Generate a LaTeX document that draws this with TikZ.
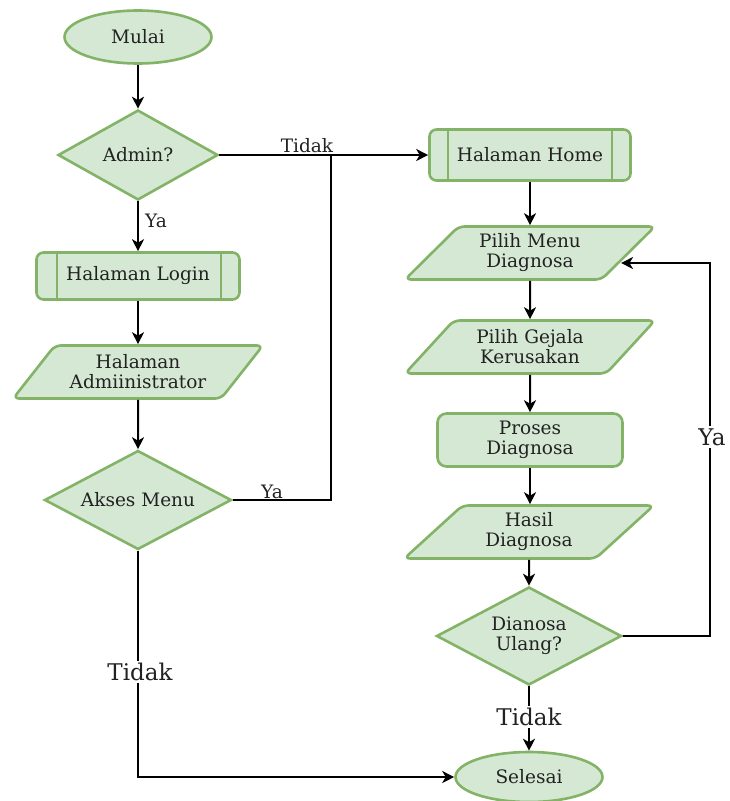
\documentclass[tikz,border=0pt]{standalone}
\usepackage{fontspec}
\setmainfont{DejaVu Serif}
\usetikzlibrary{shapes.geometric,arrows.meta,calc}
\definecolor{gfill}{HTML}{D5E8D4}
\definecolor{gdraw}{HTML}{82B366}
\definecolor{txt}{HTML}{222222}
\begin{document}
\begin{tikzpicture}[x=1pt,y=-1pt,
 base/.style={draw=gdraw,fill=gfill,line width=2.6pt,font=\fontsize{18.5}{20}\selectfont,align=center,inner sep=0pt,text=txt},
 term/.style={base,ellipse,minimum width=147pt,minimum height=53pt},
 dec/.style={base,diamond,aspect=1.8},
 io/.style={base,trapezium,trapezium left angle=45,trapezium right angle=135,trapezium stretches=true,minimum width=250pt,minimum height=53pt,rounded corners=6pt},
 proc/.style={base,rectangle,rounded corners=9pt,minimum width=185pt,minimum height=53pt},
 sub/.style={base,rectangle,rounded corners=7pt},
 arr/.style={-{Stealth[length=12pt,width=12pt,inset=3.5pt]},line width=2pt},
 conn/.style={line width=1.6pt},
 lab/.style={font=\fontsize{18.5}{20}\selectfont,inner sep=1pt,text=txt},
 biglab/.style={font=\fontsize{23}{25}\selectfont,fill=white,inner sep=2pt,text=txt}]
\useasboundingbox (0,0) rectangle (730,801);

% left column
\node[term] (mulai) at (138,37) {Mulai};
\node[dec,minimum width=160pt,minimum height=90pt] (admin) at (138,155) {Admin?};
\node[sub,minimum width=203pt,minimum height=47pt] (login) at (138,276) {Halaman Login};
\draw[gdraw,line width=1.8pt] ([xshift=22pt]login.north west) -- ([xshift=22pt]login.south west);
\draw[gdraw,line width=1.8pt] ([xshift=-20pt]login.north east) -- ([xshift=-20pt]login.south east);
\node[io] (admpage) at (138,372) {Halaman\\Admiinistrator};
\node[dec,minimum width=187pt,minimum height=99pt] (akses) at (138,500) {Akses Menu};

% right column
\node[sub,minimum width=201pt,minimum height=51pt] (home) at (530,155) {Halaman Home};
\draw[gdraw,line width=1.8pt] ([xshift=20pt]home.north west) -- ([xshift=20pt]home.south west);
\draw[gdraw,line width=1.8pt] ([xshift=-20pt]home.north east) -- ([xshift=-20pt]home.south east);
\node[io] (pmenu) at (530,253) {Pilih Menu\\Diagnosa};
\node[io] (gejala) at (530,347) {Pilih Gejala\\Kerusakan};
\node[proc] (proses) at (530,440) {Proses\\Diagnosa};
\node[io] (hasil) at (529,532) {Hasil\\Diagnosa};
\node[dec,minimum width=185pt,minimum height=98pt] (ulang) at (529,636) {Dianosa\\Ulang?};
\node[term,minimum height=50pt] (selesai) at (529,777) {Selesai};

% junction coordinates
\coordinate (j) at (331,155);
\coordinate (r1) at (710,636);
\coordinate (r2) at (710,263);
\coordinate (bl) at (138,777);

% connectors
\draw[arr] (mulai) -- (admin);
\draw[arr] (admin) -- (login);
\node[lab,anchor=west] (ya1) at (144,221) {Ya};
\draw[arr] (login) -- (admpage);
\draw[arr] (admpage) -- (akses);
\draw[arr,line width=1.6pt] (admin.east) -- (home.west);
\node[lab,anchor=south] (tidak1) at (307,154) {Tidak};
\draw[conn] (akses.east) -| (j);
\node[lab,anchor=south] (ya2) at (272,500) {Ya};
\draw[arr,line width=1.6pt] (akses.south) -- (bl) -- (selesai.west);
\node[biglab] (tidak2) at (140,672) {Tidak};

\draw[arr] (home) -- (pmenu);
\draw[arr] (pmenu) -- (gejala);
\draw[arr] (gejala) -- (proses);
\draw[arr] (proses.south) -- (proses.south |- hasil.north);
\draw[arr] (hasil) -- (ulang);
\draw[arr] (ulang.south) -- (selesai.north);
\node[biglab] (tidak3) at (529,717) {Tidak};
\draw[arr,line width=1.6pt] (ulang.east) -- (r1) -- (r2) -- ([shift={(-9pt,-10pt)}]pmenu.east);
\node[biglab] (ya3) at (712,437) {Ya};
\end{tikzpicture}
\end{document}
